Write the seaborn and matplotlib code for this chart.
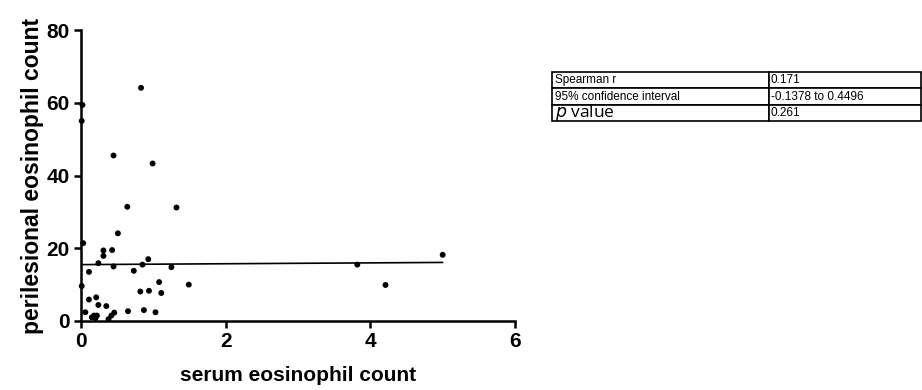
import numpy as np
import pandas as pd
import matplotlib
matplotlib.use('Agg')
import matplotlib.pyplot as plt
import seaborn as sns

# Valores
serum = [0.83, 0.02, 0.01, 0.45, 0.99, 0.64, 1.32, 0.51, 0.03, 0.31,
         0.43, 0.31, 0.93, 0.24, 0.45, 0.85, 1.25, 0.11, 0.73, 0.01,
         1.49, 1.08, 0.82, 0.94, 1.11, 0.11, 0.21, 0.24, 0.35, 0.06,
         0.65, 0.87, 1.03, 0.15, 0.18, 0.22, 0.20, 0.38, 0.42, 0.46,
         5.00, 3.82, 4.21]
perilesional = [64.1, 59.4, 55.0, 45.5, 43.3, 31.4, 31.2, 24.1, 21.4, 19.4,
                19.5, 17.9, 17.0, 15.9, 15.0, 15.5, 14.8, 13.5, 13.8, 9.6,
                10.0, 10.7, 8.1, 8.3, 7.7, 5.9, 6.5, 4.4, 4.1, 2.4,
                2.7, 3.0, 2.4, 1.0, 1.5, 1.5, 0.8, 0.5, 1.5, 2.3,
                18.2, 15.5, 9.9]
# recta de regresión (extremos)
fit_x = [0.0, 5.0]
fit_y = [15.5, 16.1]

x_ticks = [0, 2, 4, 6]
y_ticks = [0, 20, 40, 60, 80]

tabla_filas = ['Spearman r', '95% confidence interval', r'$\mathit{p}$ value']
tabla_valores = ['0.171', '-0.1378 to 0.4496', '0.261']

datos = pd.DataFrame({'serum': serum, 'perilesional': perilesional})
recta = pd.DataFrame({'x': fit_x, 'y': fit_y})

sns.set_style('ticks')
plt.rcParams['font.family'] = ['Liberation Sans', 'DejaVu Sans']
for k in ['text.color', 'axes.labelcolor', 'xtick.color', 'ytick.color', 'axes.edgecolor']:
    plt.rcParams[k] = 'black'

fig = plt.figure(figsize=(9.22, 3.9), dpi=100)
ax = fig.add_axes([81 / 922, 1 - 321 / 390, 434 / 922, 291 / 390])

sns.scatterplot(data=datos, x='serum', y='perilesional', color='black',
                s=18, edgecolor='none', ax=ax, clip_on=False, zorder=3)
sns.lineplot(data=recta, x='x', y='y', color='black', linewidth=1.2, ax=ax)

ax.set_xlim(0, 6)
ax.set_ylim(0, 80)
ax.set_xticks(x_ticks)
ax.set_yticks(y_ticks)
sns.despine(ax=ax)
for s in ['left', 'bottom']:
    ax.spines[s].set_linewidth(1.8)
ax.tick_params(width=1.8, length=5, labelsize=15, pad=3)
for lab in ax.get_xticklabels() + ax.get_yticklabels():
    lab.set_fontweight('bold')
ax.set_xlabel('serum eosinophil count', fontsize=15, fontweight='bold', labelpad=11)
ax.set_ylabel('perilesional eosinophil count', fontsize=16.5, fontweight='bold', labelpad=2)

# tabla de estadísticos
tax = fig.add_axes([552 / 922, 1 - 121 / 390, 369 / 922, 49 / 390])
tax.axis('off')
celdas = [[f, v] for f, v in zip(tabla_filas, tabla_valores)]
tabla = tax.table(cellText=celdas, cellLoc='left', bbox=[0, 0, 1, 1],
                  colWidths=[217 / 369, 152 / 369])
tabla.auto_set_font_size(False)
for (r, c), cell in tabla.get_celld().items():
    cell.PAD = 0.012
    cell.set_linewidth(1.2)
    cell.get_text().set_fontsize(8.5)
    if r == 2 and c == 0:
        cell.get_text().set_fontsize(12.5)
        cell.get_text().set_fontfamily(['Open Sans', 'DejaVu Sans'])

fig.savefig('out.png', dpi=100)
